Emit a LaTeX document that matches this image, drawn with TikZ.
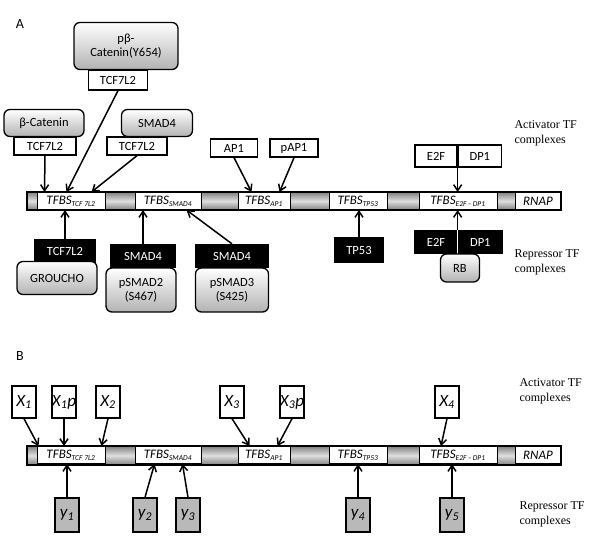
\documentclass[tikz,border=0pt]{standalone}
\usepackage{fontspec}
\setmainfont{Carlito}
\newfontfamily\serif{Liberation Serif}
\usetikzlibrary{positioning,arrows.meta}
\tikzset{
  box/.style={draw,line width=1.3pt,fill=white,inner sep=0pt,font=\fontsize{12.5}{14}\selectfont,align=center},
  rbox/.style={box,rounded corners=6pt,top color=white,bottom color=gray!60},
  bbox/.style={box,fill=black,text=white},
  gbox/.style={box,fill=gray!55},
  site/.style={draw,line width=1pt,fill=white,inner sep=0pt,minimum height=17pt,font=\fontsize{13}{14}\selectfont\itshape},
  arr/.style={-{Straight Barb[length=6pt,width=8pt]},line width=1.5pt},
  side/.style={font=\serif\fontsize{12}{15}\selectfont,align=left,anchor=north west}
}
\newcommand{\tfbs}[1]{TFBS\textsubscript{\fontsize{7.5}{7}\selectfont #1}}
\begin{document}
\begin{tikzpicture}[x=1pt,y=-1pt]
\useasboundingbox (0,0) rectangle (600,539);

% panel A
\node[font=\fontsize{14}{16}\selectfont] (lA) at (20,24) {A};
\draw[line width=1.3pt,top color=gray,bottom color=gray,middle color=gray!25] (27,192) rectangle (561,210);
\node[site,minimum width=68pt] (tA) at (71,201) {\tfbs{TCF 7L2}};
\node[site,minimum width=66pt] (sA) at (168,201) {\tfbs{SMAD4}};
\node[site,minimum width=52pt] (aA) at (264,201) {\tfbs{AP1}};
\node[site,minimum width=58pt] (pA) at (358,201) {\tfbs{TP53}};
\node[site,minimum width=78pt] (eA) at (458,201) {\tfbs{E2F\,--\,DP1}};
\node[site,minimum width=45pt] (rA) at (538,201) {RNAP};

\node[rbox,minimum width=104pt,minimum height=47pt] (pbc) at (126,46) {pβ-\\Catenin(Y654)};
\node[box,minimum width=59pt,minimum height=20pt] (tc1) at (118,80) {TCF7L2};
\node[rbox,minimum width=80pt,minimum height=27pt] (bc) at (44,123) {β-Catenin};
\node[box,minimum width=62pt,minimum height=18pt] (tc2) at (45,146) {TCF7L2};
\node[rbox,minimum width=71pt,minimum height=27pt] (sm) at (157,123) {SMAD4};
\node[box,minimum width=60pt,minimum height=18pt] (tc3) at (137,146) {TCF7L2};
\node[box,minimum width=47pt,minimum height=18pt] (ap) at (234,148) {AP1};
\node[box,minimum width=48pt,minimum height=18pt] (pap) at (294,148) {pAP1};
\node[box,minimum width=42pt,minimum height=22pt] (e2f) at (436,156) {E2F};
\node[box,minimum width=43pt,minimum height=22pt,right=0pt of e2f] (dp) {DP1};

\draw[arr] (tc1.south) -- ([xshift=30pt]tA.north west);
\draw[arr] (tc2.south) -- ([xshift=8pt]tA.north west);
\draw[arr] (tc3.south) -- ([xshift=55pt]tA.north west);
\draw[arr] (ap.south) -- ([xshift=14pt]aA.north west);
\draw[arr] (pap.south) -- ([xshift=42pt]aA.north west);
\draw[arr] (e2f.south east) -- (e2f.south east |- eA.north);

\node[bbox,minimum width=61pt,minimum height=22pt] (tcr) at (65,251) {TCF7L2};
\node[rbox,minimum width=80pt,minimum height=33pt] (gr) at (57,278) {GROUCHO};
\node[bbox,minimum width=65pt,minimum height=23pt] (s4a) at (143,256) {SMAD4};
\node[rbox,minimum width=70pt,minimum height=44pt] (ps2) at (141,290) {pSMAD2\\(S467)};
\node[bbox,minimum width=73pt,minimum height=23pt] (s4b) at (232,256) {SMAD4};
\node[rbox,minimum width=73pt,minimum height=44pt] (ps3) at (232,290) {pSMAD3\\(S425)};
\node[bbox,minimum width=48pt,minimum height=24pt] (tp) at (359,250) {TP53};
\node[bbox,minimum width=42pt,minimum height=23pt] (e2r) at (436,242) {E2F};
\node[bbox,minimum width=44pt,minimum height=23pt,right=0pt of e2r] (dpr) {DP1};
\draw[white,line width=1.3pt] (e2r.north east) -- (e2r.south east);
\node[rbox,minimum width=39pt,minimum height=28pt] (rb) at (460,268) {RB};

\draw[arr] (tcr.north) -- (tcr.north |- tA.south);
\draw[arr] (s4a.north) -- (s4a.north |- sA.south);
\draw[arr] (s4b.north) -- ([xshift=-15pt]sA.south east);
\draw[arr] (tp.north) -- (tp.north |- pA.south);
\draw[arr] (e2r.north east) -- (e2r.north east |- eA.south);

\node[side] (actA) at (511,117) {Activator TF\\complexes};
\node[side] (repA) at (511,246) {Repressor TF\\complexes};

% panel B
\node[font=\fontsize{14}{16}\selectfont] (lB) at (20,356) {B};
\draw[line width=1.3pt,top color=gray,bottom color=gray,middle color=gray!25] (27,446) rectangle (561,465);
\node[site,minimum width=68pt] (tB) at (71,455) {\tfbs{TCF 7L2}};
\node[site,minimum width=66pt] (sB) at (168,455) {\tfbs{SMAD4}};
\node[site,minimum width=52pt] (aB) at (264,455) {\tfbs{AP1}};
\node[site,minimum width=58pt] (pB) at (358,455) {\tfbs{TP53}};
\node[site,minimum width=78pt] (eB) at (458,455) {\tfbs{E2F\,--\,DP1}};
\node[site,minimum width=45pt] (rB) at (538,455) {RNAP};

\foreach \n/\x/\t in {x1/24/X\textsubscript{1},x1p/64/X\textsubscript{1}p,x2/108/X\textsubscript{2},x3/232/X\textsubscript{3},x3p/292/X\textsubscript{3}p,x4/447/X\textsubscript{4}}
  \node[box,minimum width=24pt,minimum height=32pt,font=\fontsize{17}{18}\selectfont\itshape] (\n) at (\x,402) {\t};
\foreach \n/\x/\t in {y1/67/1,y2/145/2,y3/188/3,y4/358/4,y5/452/5}
  \node[gbox,minimum width=24pt,minimum height=34pt,font=\fontsize{17}{18}\selectfont\itshape] (\n) at (\x,515) {y\textsubscript{\t}};

\draw[arr] (x1.south) -- ([xshift=2pt]tB.north west);
\draw[arr] (x1p.south) -- (x1p.south |- tB.north);
\draw[arr] (x2.south) -- ([xshift=-4pt]tB.north east);
\draw[arr] (x3.south) -- ([xshift=12pt]aB.north west);
\draw[arr] (x3p.south) -- ([xshift=40pt]aB.north west);
\draw[arr] (x4.south) -- ([xshift=-6pt]x4.south |- eB.north);
\draw[arr] (y1.north) -- (y1.north |- tB.south);
\draw[arr] (y2.north) -- ([xshift=20pt]sB.south west);
\draw[arr] (y3.north) -- ([xshift=48pt]sB.south west);
\draw[arr] (y4.north) -- (y4.north |- pB.south);
\draw[arr] (y5.north) -- (y5.north |- eB.south);

\node[side] (actB) at (516,375) {Activator TF\\complexes};
\node[side] (repB) at (516,498) {Repressor TF\\complexes};
\end{tikzpicture}
\end{document}
